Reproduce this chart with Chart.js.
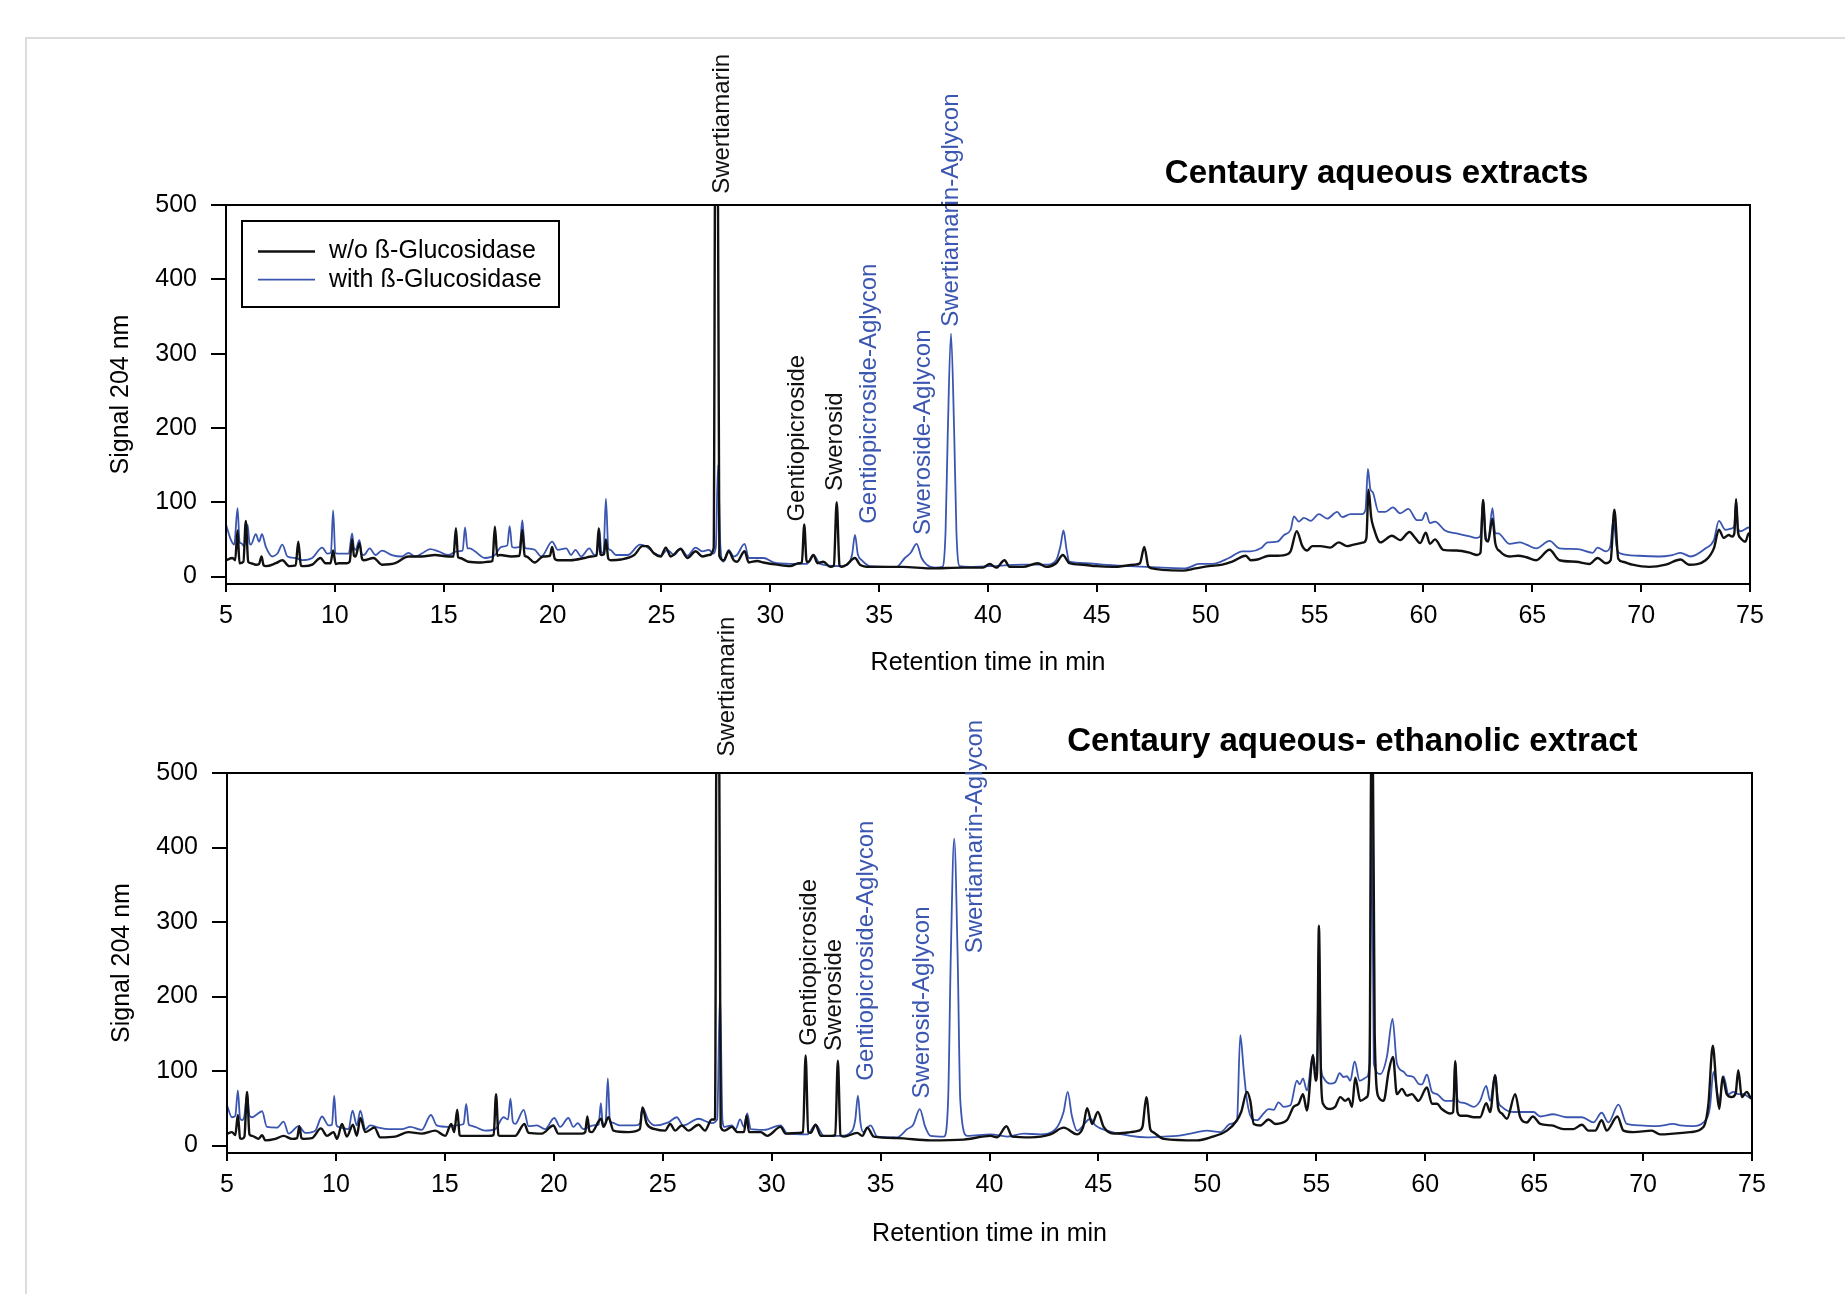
<!DOCTYPE html>
<html>
<head>
<meta charset="utf-8">
<script src="https://cdn.jsdelivr.net/npm/chart.js@4.4.1/dist/chart.umd.min.js"></script>
<style>
  body { margin:0; background:#fff; width:1845px; height:1294px; overflow:hidden; position:relative; }
  .frame { position:absolute; left:25px; top:37px; width:1830px; height:1270px; border-top:2px solid #dcdcdc; border-left:2px solid #dcdcdc; }
  canvas { position:absolute; left:0; top:0; }
</style>
</head>
<body>
<div class="frame"></div>
<canvas id="topChart" width="1845" height="1294"></canvas>
<canvas id="bottomChart" width="1845" height="1294"></canvas>
<script>
const FONT = "'Liberation Sans', Arial, Helvetica, sans-serif"
const BLACK = "#111111"
const BLUE = "#3b56b0"

const seriesNames = ["w/o ß-Glucosidase", "with ß-Glucosidase"]
const xTicks = [5, 10, 15, 20, 25, 30, 35, 40, 45, 50, 55, 60, 65, 70, 75]
const yTicks = [0, 100, 200, 300, 400, 500]

// [retention time (min), signal] - aqueous extract
const topWithout = [[5.00,22],[5.30,25],[5.42,22],[5.53,62],[5.62,18],[5.80,20],[5.91,75],[6.02,20],[6.14,18],[6.37,16],[6.52,17],[6.63,27],[6.73,15],[6.83,14],[7.29,18],[7.59,22],[7.90,14],[8.20,15],[8.32,47],[8.44,15],[8.58,14],[8.96,16],[9.34,25],[9.57,18],[9.80,18],[9.92,35],[10.04,17],[10.18,18],[10.56,18],[10.68,20],[10.79,50],[10.88,28],[10.95,27],[11.13,45],[11.25,24],[11.33,22],[11.78,25],[12.16,16],[12.77,18],[13.38,27],[13.99,27],[14.60,29],[15.21,27],[15.45,27],[15.56,65],[15.66,26],[15.75,25],[16.13,20],[16.74,19],[17.04,20],[17.24,21],[17.35,67],[17.46,28],[17.58,29],[18.11,27],[18.48,28],[18.61,63],[18.72,28],[18.80,27],[19.18,19],[19.56,27],[19.88,28],[19.98,40],[20.10,24],[20.24,22],[20.85,22],[21.46,25],[21.77,27],[22.02,28],[22.12,65],[22.20,30],[22.27,29],[22.36,30],[22.45,50],[22.56,24],[22.68,22],[23.14,23],[23.75,29],[24.13,41],[24.36,41],[24.66,31],[24.97,27],[25.20,39],[25.43,27],[25.88,37],[26.19,25],[26.57,34],[26.88,27],[27.18,29],[27.40,38],[27.48,640],[27.58,640],[27.66,28],[27.87,22],[28.09,34],[28.32,22],[28.47,20],[28.82,34],[29.01,19],[29.39,21],[29.69,19],[30.31,16],[30.92,14],[31.30,18],[31.45,19],[31.56,70],[31.67,20],[31.76,20],[31.98,29],[32.17,18],[32.44,20],[32.75,13],[32.92,15],[33.05,100],[33.18,15],[33.28,13],[33.51,16],[33.89,25],[34.12,16],[34.58,13],[36.11,13],[37.33,11],[38.85,12],[39.77,12],[40.08,17],[40.38,12],[40.76,22],[40.99,13],[41.60,13],[42.29,18],[42.67,13],[43.13,18],[43.44,29],[43.74,18],[44.35,16],[44.96,14],[45.73,13],[46.72,16],[46.98,18],[47.18,40],[47.36,14],[47.53,11],[48.02,9],[48.93,8],[49.54,11],[50.15,14],[50.76,16],[51.22,20],[51.84,28],[52.07,22],[52.38,23],[52.91,28],[53.29,28],[53.75,30],[53.90,34],[54.18,61],[54.44,41],[54.66,35],[54.89,41],[55.27,41],[55.73,39],[56.11,46],[56.49,41],[56.80,43],[57.26,46],[57.38,52],[57.48,117],[57.60,80],[57.71,66],[58.02,46],[58.55,55],[58.93,49],[59.36,60],[59.62,52],[59.85,45],[60.11,59],[60.30,44],[60.53,50],[60.91,36],[61.52,35],[62.13,32],[62.47,29],[62.62,32],[62.74,103],[62.86,50],[62.97,47],[63.17,78],[63.30,45],[63.51,34],[63.96,27],[64.34,28],[64.73,26],[65.18,22],[65.79,36],[66.25,22],[67.01,20],[67.62,17],[68.00,25],[68.38,18],[68.60,22],[68.77,90],[68.95,24],[69.15,20],[69.60,16],[70.37,13],[71.13,16],[71.81,23],[72.20,16],[72.96,22],[73.34,38],[73.57,63],[73.80,52],[74.02,56],[74.18,54],[74.28,58],[74.36,104],[74.45,60],[74.56,52],[74.79,47],[74.94,58],[75.00,58]]
const topWith = [[5.00,70],[5.23,49],[5.38,43],[5.53,92],[5.63,45],[5.69,45],[5.84,41],[5.99,70],[6.08,45],[6.14,43],[6.37,57],[6.52,47],[6.65,57],[6.83,40],[7.13,27],[7.36,31],[7.59,43],[7.82,27],[8.20,25],[8.51,22],[8.96,25],[9.42,39],[9.65,31],[9.82,32],[9.92,89],[10.02,32],[10.11,31],[10.64,31],[10.79,58],[10.88,38],[10.95,36],[11.13,49],[11.24,30],[11.33,29],[11.60,38],[11.86,29],[12.16,35],[12.62,29],[13.08,27],[13.38,32],[13.69,27],[13.99,31],[14.38,37],[14.76,34],[15.21,29],[15.59,34],[15.87,35],[15.98,66],[16.09,38],[16.20,38],[16.43,34],[16.89,25],[17.35,29],[17.65,40],[17.92,42],[18.03,68],[18.14,40],[18.26,39],[18.49,40],[18.61,76],[18.72,40],[18.80,38],[19.18,36],[19.48,27],[19.98,47],[20.24,36],[20.63,38],[20.85,29],[21.05,36],[21.31,27],[21.69,38],[21.92,29],[22.04,30],[22.15,64],[22.24,32],[22.34,33],[22.45,105],[22.56,38],[22.65,36],[22.91,29],[23.45,29],[24.02,43],[24.28,41],[24.66,32],[24.97,28],[25.27,36],[25.58,29],[25.88,38],[26.19,28],[26.57,39],[26.88,34],[27.18,36],[27.38,31],[27.50,40],[27.60,150],[27.70,45],[27.84,20],[28.09,36],[28.32,27],[28.47,29],[28.82,44],[29.01,25],[29.69,25],[30.15,19],[30.92,17],[31.68,17],[31.98,29],[32.29,17],[33.21,14],[33.60,18],[33.76,30],[33.89,56],[34.02,30],[34.20,22],[34.58,14],[35.80,13],[36.18,25],[36.45,32],[36.72,44],[36.95,25],[37.18,16],[37.56,12],[37.90,13],[38.05,60],[38.15,190],[38.30,327],[38.45,190],[38.55,60],[38.70,14],[39.16,13],[40.08,14],[41.60,16],[42.67,16],[43.13,22],[43.32,40],[43.47,62],[43.60,38],[43.74,20],[44.50,18],[45.27,16],[46.49,14],[48.02,12],[49.08,11],[49.69,17],[50.31,17],[51.07,25],[51.68,34],[52.07,34],[52.53,38],[52.84,46],[53.29,47],[53.60,56],[53.90,63],[54.05,81],[54.28,74],[54.51,79],[54.82,75],[55.20,84],[55.58,78],[56.04,87],[56.27,80],[56.65,84],[57.18,84],[57.34,90],[57.45,145],[57.56,118],[57.68,113],[57.94,87],[58.25,87],[58.60,93],[58.93,85],[59.31,91],[59.70,76],[59.92,76],[60.11,86],[60.30,72],[60.53,74],[60.99,62],[61.52,58],[62.13,54],[62.47,52],[62.62,55],[62.74,103],[62.86,55],[62.97,48],[63.17,92],[63.30,58],[63.43,58],[63.96,44],[64.42,46],[64.73,43],[65.18,38],[65.79,48],[66.25,38],[67.09,37],[67.77,32],[68.00,39],[68.38,34],[68.58,40],[68.72,75],[68.90,36],[69.07,31],[69.91,28],[70.82,27],[71.43,29],[71.81,32],[72.27,27],[72.96,38],[73.34,49],[73.57,75],[73.87,63],[74.18,65],[74.28,68],[74.36,104],[74.45,65],[74.56,61],[74.94,66],[75.00,66]]

// aqueous-ethanolic extract
const bottomWithout = [[5.00,16],[5.23,18],[5.38,14],[5.50,41],[5.60,10],[5.69,9],[5.80,12],[5.92,72],[6.03,15],[6.15,13],[6.45,9],[6.61,14],[6.76,7],[7.22,9],[7.60,13],[7.98,9],[8.22,10],[8.32,26],[8.42,10],[8.52,9],[8.90,10],[9.31,23],[9.59,13],[9.89,18],[10.05,9],[10.28,29],[10.50,12],[10.78,28],[10.96,13],[11.12,37],[11.35,18],[11.77,24],[12.03,11],[12.72,12],[13.33,18],[13.94,16],[14.56,20],[15.02,13],[15.29,29],[15.43,18],[15.57,48],[15.68,14],[15.75,13],[16.39,13],[17.00,13],[17.24,14],[17.35,69],[17.46,14],[17.54,13],[18.23,13],[18.65,29],[18.84,17],[19.45,16],[19.98,27],[20.21,16],[20.83,16],[21.28,16],[21.44,18],[21.54,39],[21.64,19],[21.74,18],[22.17,36],[22.28,25],[22.51,38],[22.74,20],[23.42,18],[23.95,22],[24.07,51],[24.27,29],[24.65,22],[25.11,20],[25.34,29],[25.57,20],[25.87,27],[26.18,20],[26.64,28],[26.94,20],[27.25,35],[27.40,35],[27.48,640],[27.58,640],[27.66,25],[27.84,20],[28.17,25],[28.43,18],[28.73,18],[28.85,40],[28.96,18],[29.04,18],[29.50,18],[29.80,13],[30.41,25],[30.64,16],[31.25,17],[31.44,18],[31.56,121],[31.68,18],[31.79,17],[32.02,28],[32.25,13],[32.71,13],[32.92,14],[33.04,114],[33.16,14],[33.32,12],[33.93,17],[34.16,13],[34.39,24],[34.69,12],[35.76,10],[37.29,7],[38.82,8],[40.05,13],[40.35,11],[40.78,26],[41.04,12],[41.88,11],[42.80,15],[43.41,24],[44.02,15],[44.30,25],[44.48,50],[44.71,29],[44.97,45],[45.24,25],[45.70,16],[46.47,18],[46.85,20],[47.02,25],[47.20,65],[47.38,22],[47.51,18],[48.00,9],[49.53,7],[50.14,11],[50.90,20],[51.36,34],[51.55,45],[51.82,72],[51.97,60],[52.13,29],[52.43,27],[52.81,35],[53.12,29],[53.65,34],[53.96,52],[54.19,56],[54.39,69],[54.57,47],[54.85,121],[54.97,87],[55.04,100],[55.12,295],[55.21,100],[55.31,56],[55.64,49],[55.87,52],[56.10,65],[56.33,60],[56.48,63],[56.64,52],[56.79,91],[57.02,60],[57.32,65],[57.45,110],[57.52,510],[57.60,510],[57.68,150],[57.86,65],[58.09,60],[58.32,99],[58.52,119],[58.70,69],[58.93,76],[59.16,67],[59.39,69],[59.69,60],[60.08,78],[60.31,56],[60.54,56],[60.76,49],[61.15,43],[61.28,45],[61.38,113],[61.48,45],[61.61,40],[61.91,40],[62.22,38],[62.52,38],[62.80,57],[62.98,45],[63.21,94],[63.35,50],[63.52,43],[63.75,36],[64.13,69],[64.36,38],[64.66,31],[64.94,39],[65.28,29],[65.81,27],[66.35,22],[66.80,22],[67.19,28],[67.49,20],[67.80,20],[68.10,34],[68.33,20],[68.82,39],[69.10,20],[69.56,18],[70.40,20],[70.78,15],[71.39,16],[72.16,18],[72.77,25],[73.00,56],[73.20,134],[73.38,74],[73.50,49],[73.65,92],[73.84,69],[74.07,65],[74.25,70],[74.37,101],[74.53,65],[74.76,72],[74.98,63],[75.00,63]]
const bottomWith = [[5.00,54],[5.23,38],[5.38,40],[5.50,74],[5.60,36],[5.69,34],[5.80,40],[5.92,69],[6.03,40],[6.15,38],[6.38,42],[6.61,46],[6.83,25],[7.29,24],[7.60,32],[7.83,16],[8.29,26],[8.59,17],[9.05,20],[9.36,39],[9.66,27],[9.82,28],[9.92,67],[10.02,28],[10.12,25],[10.58,22],[10.76,47],[10.96,27],[11.12,47],[11.35,22],[11.57,27],[11.96,24],[12.42,22],[13.03,22],[13.41,25],[13.94,21],[14.36,41],[14.63,27],[15.17,25],[15.47,27],[15.86,29],[15.98,56],[16.10,28],[16.16,27],[16.39,25],[16.85,20],[17.31,22],[17.69,38],[17.90,35],[18.01,63],[18.12,32],[18.23,29],[18.62,48],[18.84,26],[19.22,27],[19.60,22],[20.02,37],[20.29,25],[20.67,37],[20.90,25],[21.10,30],[21.36,22],[21.81,27],[22.06,28],[22.16,57],[22.25,28],[22.32,27],[22.38,30],[22.48,90],[22.58,32],[22.66,31],[23.04,27],[23.73,27],[23.96,30],[24.07,51],[24.34,34],[24.65,27],[25.26,31],[25.64,38],[25.95,27],[26.64,36],[27.25,30],[27.50,35],[27.63,205],[27.74,35],[27.84,25],[28.17,27],[28.35,22],[28.55,35],[28.73,25],[28.88,43],[29.04,22],[29.65,21],[30.41,27],[30.72,16],[31.64,15],[32.02,28],[32.40,13],[33.17,13],[33.70,20],[33.84,35],[33.96,67],[34.08,30],[34.20,18],[34.54,27],[34.85,12],[35.76,11],[36.22,22],[36.50,28],[36.80,49],[37.05,25],[37.29,13],[37.91,12],[38.10,60],[38.22,250],[38.38,412],[38.54,250],[38.66,60],[38.98,13],[40.05,15],[40.81,12],[41.57,16],[42.34,15],[43.03,22],[43.40,45],[43.59,72],[43.78,40],[44.02,20],[44.63,36],[44.86,27],[45.40,20],[46.47,13],[47.23,11],[48.00,12],[48.61,13],[49.22,16],[49.98,20],[50.60,18],[51.06,29],[51.36,34],[51.51,148],[51.67,101],[51.82,60],[52.05,36],[52.28,34],[52.58,43],[52.81,49],[53.04,48],[53.27,58],[53.50,52],[53.81,54],[54.11,87],[54.24,82],[54.39,90],[54.57,74],[54.85,122],[54.97,101],[55.04,110],[55.12,285],[55.21,110],[55.31,92],[55.64,83],[55.87,85],[56.07,97],[56.25,92],[56.41,93],[56.56,87],[56.76,113],[56.99,87],[57.32,92],[57.44,110],[57.54,468],[57.64,110],[57.94,96],[58.24,119],[58.50,170],[58.70,110],[59.01,99],[59.16,94],[59.46,92],[59.69,83],[59.85,82],[60.08,95],[60.31,72],[60.54,69],[60.92,60],[61.22,60],[61.30,62],[61.38,114],[61.48,62],[61.61,58],[61.91,56],[62.22,52],[62.52,60],[62.80,80],[62.98,60],[63.21,95],[63.35,60],[63.52,52],[64.05,45],[64.66,45],[64.97,45],[65.28,39],[65.87,42],[66.50,38],[67.19,38],[67.72,31],[68.10,44],[68.41,31],[68.87,55],[69.25,29],[69.86,27],[70.63,26],[71.39,29],[71.70,27],[72.31,26],[72.77,31],[73.07,52],[73.23,99],[73.50,60],[73.69,93],[73.92,69],[74.14,72],[74.37,69],[74.60,69],[74.98,63],[75.00,63]]

// peak names: [name, retention time, signal where text starts, series index]
const topPeaks = [["Swertiamarin",27.81,515,0],["Gentiopicroside",31.23,74,0],["Swerosid",32.97,115,0],["Gentiopicroside-Aglycon",34.54,71,1],["Sweroside-Aglycon",37.02,56,1],["Swertiamarin-Aglycon",38.30,336,1]]
const bottomPeaks = [["Swertiamarin",27.96,522,0],["Gentiopicroside",31.74,134,0],["Sweroside",32.87,127,0],["Gentiopicroside-Aglycon",34.33,87,1],["Swerosid-Aglycon",36.92,63,1],["Swertiamarin-Aglycon",39.35,258,1]]

const colors = [BLACK, BLUE]

function peakLabelPlugin(peaks) {
  return {
    id: 'peakLabels',
    afterDatasetsDraw(chart) {
      const { ctx, scales: { x, y } } = chart
      ctx.save()
      ctx.font = `24px ${FONT}`
      ctx.textAlign = 'left'
      ctx.textBaseline = 'middle'
      peaks.forEach(([name, t, v, s]) => {
        ctx.save()
        ctx.translate(x.getPixelForValue(t), y.getPixelForValue(v))
        ctx.rotate(-Math.PI / 2)
        ctx.fillStyle = colors[s]
        ctx.fillText(name, 0, 0)
        ctx.restore()
      })
      ctx.restore()
    }
  }
}

function framePlugin(title, titleFrac, showLegend) {
  return {
    id: 'frame',
    afterDatasetsDraw(chart) {
      const { ctx, chartArea: a } = chart
      ctx.save()
      ctx.strokeStyle = '#000'
      ctx.lineWidth = 2
      ctx.strokeRect(a.left, a.top, a.right - a.left, a.bottom - a.top)

      // chart title
      ctx.fillStyle = '#000'
      ctx.font = `bold 33px ${FONT}`
      ctx.textAlign = 'center'
      ctx.textBaseline = 'middle'
      ctx.fillText(title, a.left + (a.right - a.left) * titleFrac, a.top - 31)

      if (showLegend) {
        const lx = a.left + 16, ly = a.top + 16
        ctx.strokeRect(lx, ly, 317, 86)
        ctx.font = `25px ${FONT}`
        ctx.textAlign = 'left'
        seriesNames.forEach((name, i) => {
          const yy = ly + 30.5 + i * 28.2
          ctx.strokeStyle = colors[i]
          ctx.lineWidth = i === 0 ? 2.4 : 1.8
          ctx.beginPath()
          ctx.moveTo(lx + 16, yy)
          ctx.lineTo(lx + 73, yy)
          ctx.stroke()
          ctx.fillStyle = '#000'
          ctx.fillText(name, lx + 87, yy)
        })
      }
      ctx.restore()
    }
  }
}

function makeChart(id, without, withEnz, peaks, title, titleFrac, showLegend, pad, xAxisH) {
  const axisFont = { family: FONT, size: 25 }
  return new Chart(document.getElementById(id), {
    type: 'line',
    data: {
      datasets: [
        { label: seriesNames[0], data: without.map(([x, y]) => ({ x, y })), borderColor: BLACK, borderWidth: 2.4 },
        { label: seriesNames[1], data: withEnz.map(([x, y]) => ({ x, y })), borderColor: BLUE, borderWidth: 1.8 }
      ]
    },
    options: {
      responsive: false,
      animation: false,
      events: [],
      layout: { padding: pad },
      elements: { point: { radius: 0 }, line: { cubicInterpolationMode: 'monotone', fill: false } },
      plugins: { legend: { display: false }, tooltip: { enabled: false } },
      scales: {
        x: {
          type: 'linear', min: 5, max: 75,
          afterFit: s => { s.height = xAxisH },
          afterBuildTicks: s => { s.ticks = xTicks.map(v => ({ value: v })) },
          ticks: { font: axisFont, color: '#000', padding: 9, maxRotation: 0, autoSkip: false },
          grid: { drawOnChartArea: false, drawTicks: true, tickLength: 8, color: '#000', lineWidth: 2 },
          border: { display: true, color: '#000', width: 2 },
          title: { display: true, text: 'Retention time in min', font: axisFont, color: '#000', padding: 0 }
        },
        y: {
          type: 'linear', min: -10, max: 500,
          afterFit: s => { s.width = 120 },
          afterBuildTicks: s => { s.ticks = yTicks.map(v => ({ value: v })) },
          ticks: { font: axisFont, color: '#000', padding: 14 },
          grid: { drawOnChartArea: false, drawTicks: true, tickLength: 15, color: '#000', lineWidth: 2 },
          border: { display: true, color: '#000', width: 2 },
          title: { display: true, text: 'Signal 204 nm', font: axisFont, color: '#000', padding: 0 }
        }
      }
    },
    plugins: [framePlugin(title, titleFrac, showLegend), peakLabelPlugin(peaks)]
  })
}

makeChart('topChart', topWithout, topWith, topPeaks, 'Centaury aqueous extracts', 0.755, true,
  { left: 106, right: 95, top: 205, bottom: 616 }, 94)
makeChart('bottomChart', bottomWithout, bottomWith, bottomPeaks, 'Centaury aqueous- ethanolic extract', 0.738, false,
  { left: 107, right: 93, top: 773, bottom: 45 }, 96)
</script>
</body>
</html>
